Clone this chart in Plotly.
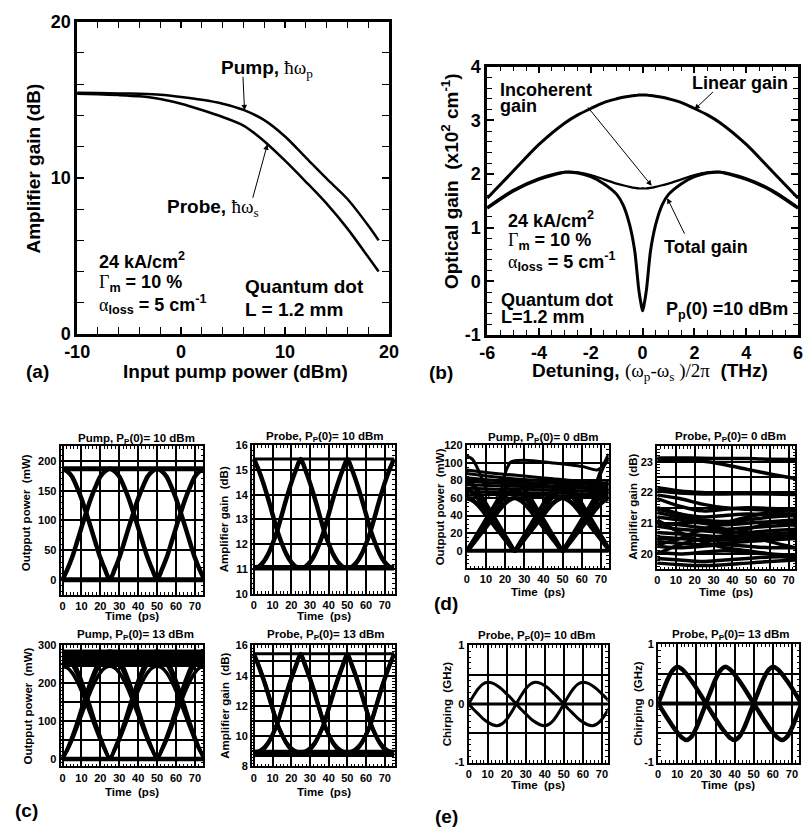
import plotly.graph_objects as go

W, H = 811, 835
SANS = "Liberation Sans, Arial, Helvetica, sans-serif"

# ---------------- panel (a): amplifier gain vs input pump power
A_INPUT_DBM = [-10, -8, -6, -4, -2, 0, 2, 4, 6, 8, 10, 12, 14, 16, 18, 19]
A_PUMP_GAIN = [15.45, 15.43, 15.41, 15.38, 15.32, 15.18, 15.0, 14.75, 14.35, 13.7, 12.65, 11.3, 9.95, 8.65, 6.95, 6.0]
A_PROBE_GAIN = [15.38, 15.35, 15.3, 15.22, 15.05, 14.75, 14.35, 13.9, 13.35, 12.35, 11.1, 9.75, 8.35, 6.75, 4.93, 4.0]

# ---------------- panel (b): optical gain vs detuning
B_DETUNING = [-6, -5, -4, -3, -2.5, -2, -1.5, -1, -0.75, -0.5, -0.3, -0.15, -0.05, 0,
              0.05, 0.15, 0.3, 0.5, 0.75, 1, 1.5, 2, 2.5, 3, 4, 5, 6]
B_LINEAR = [1.55, 2.05, 2.55, 2.95, 3.10, 3.22, 3.33, 3.40, 3.43, 3.45, 3.46, 3.47, 3.47, 3.47,
            3.47, 3.47, 3.46, 3.45, 3.43, 3.40, 3.33, 3.22, 3.10, 2.95, 2.55, 2.05, 1.55]
B_INCOHERENT = [1.38, 1.70, 1.92, 2.04, 2.03, 1.98, 1.90, 1.82, 1.79, 1.76, 1.74, 1.73, 1.73, 1.73,
                1.73, 1.73, 1.74, 1.76, 1.79, 1.82, 1.90, 1.98, 2.03, 2.04, 1.92, 1.70, 1.38]
B_TOTAL = [1.36, 1.68, 1.90, 2.03, 2.02, 1.95, 1.82, 1.62, 1.42, 1.05, 0.55, -0.15, -0.45, -0.55,
           -0.45, -0.15, 0.55, 1.05, 1.42, 1.62, 1.82, 1.95, 2.02, 2.03, 1.90, 1.68, 1.36]

# ---------------- eye diagrams (c): one bit-transition edge sampled over 25 ps
T_EDGE = [0, 2.5, 5, 7.5, 10, 12.5, 15, 17.5, 20, 22.5, 25]
T_SPAN = [0, 75]
C_PUMP10_EDGES = [[0, 17, 37, 62, 88, 113, 137, 157, 174, 183, 187]]
C_PUMP10_LEVELS = [0, 187]
C_PROBE10_EDGES = [[15.45, 15.01, 14.48, 13.87, 13.21, 12.55, 12.02, 11.58, 11.27, 11.09, 11.05]]
C_PROBE10_LEVELS = [15.45, 11.05]
C_PUMP13_EDGES = [[0, 22, 49, 81, 115, 148, 180, 207, 228, 241, 245],
                  [0, 24, 54, 89, 127, 162, 197, 227, 251, 265, 270],
                  [0, 26, 58, 94, 134, 171, 208, 240, 265, 280, 285]]
C_PUMP13_LEVELS = [0, 249, 256, 263, 270, 277, 283]
C_PROBE13_EDGES = [[15.45, 14.70, 13.85, 12.90, 11.85, 10.85, 10.10, 9.50, 9.10, 8.85, 8.75],
                   [15.40, 14.62, 13.75, 12.80, 11.78, 10.80, 10.10, 9.55, 9.20, 9.00, 8.95]]
C_PROBE13_LEVELS = [15.45, 8.78, 8.95]

# ---------------- (d) pump / probe at 0 dBm
D_PUMP_EDGES = [[0, 6, 13, 20, 27, 34, 41, 48, 54, 58, 60],
                [0, 7, 15, 23, 31, 39, 47, 55, 62, 67, 69],
                [0, 8, 17, 26, 35, 44, 53, 62, 70, 76, 78]]
D_PUMP_LEVELS = [0]
D_PUMP_T = [0, 15, 30, 45, 60, 74]
D_PUMP_WANDER = [[92, 88, 85, 82, 79, 77],
                 [88, 84, 81, 79, 77, 75],
                 [83, 80, 78, 77, 76, 73],
                 [79, 77, 75, 74, 73, 71],
                 [75, 74, 73, 72, 71, 69],
                 [71, 70, 70, 69, 68, 67],
                 [67, 67, 66, 66, 65, 64],
                 [63, 64, 63, 63, 62, 62]]
D_PUMP_SPECIAL_T = [[0, 3, 6, 9, 12],
                    [15, 18, 20, 23, 30, 45, 60, 68, 71, 74],
                    [63, 67, 70, 74],
                    [65, 69, 72, 74]]
D_PUMP_SPECIAL_V = [[108, 104, 92, 76, 62],
                    [62, 70, 88, 101, 103, 100, 96, 92, 96, 106],
                    [62, 75, 92, 110],
                    [70, 84, 98, 104]]
D_PROBE_T = [0, 12, 24, 36, 48, 60, 73.5]
D_PROBE_LINES = [[23.12, 23.12, 23.11, 23.10, 23.10, 23.08, 23.07],
                 [23.05, 23.04, 23.02, 22.90, 22.75, 22.60, 22.45],
                 [22.15, 22.05, 22.00, 21.98, 21.97, 21.95, 21.93],
                 [22.05, 21.98, 21.95, 21.95, 21.96, 21.97, 21.98],
                 [21.92, 21.80, 21.62, 21.50, 21.45, 21.42, 21.40],
                 [21.80, 21.55, 21.40, 21.45, 21.50, 21.48, 21.45],
                 [21.45, 21.30, 21.20, 21.25, 21.30, 21.28, 21.30],
                 [21.35, 21.20, 21.10, 21.05, 21.10, 21.20, 21.25],
                 [21.20, 21.10, 21.00, 20.95, 21.00, 21.05, 21.10],
                 [21.00, 20.95, 20.85, 20.80, 20.85, 20.90, 20.95],
                 [20.90, 20.80, 20.75, 20.70, 20.70, 20.75, 20.80],
                 [20.70, 20.65, 20.60, 20.55, 20.60, 20.65, 20.70],
                 [20.55, 20.50, 20.45, 20.45, 20.50, 20.55, 20.60],
                 [20.40, 20.35, 20.30, 20.35, 20.40, 20.45, 20.50],
                 [20.25, 20.20, 20.25, 20.30, 20.25, 20.20, 20.20],
                 [20.05, 20.00, 20.05, 20.10, 20.05, 20.00, 19.95],
                 [19.85, 19.80, 19.75, 19.80, 19.85, 19.90, 19.90],
                 [19.70, 19.65, 19.62, 19.65, 19.70, 19.75, 19.80],
                 [21.50, 21.30, 21.05, 20.80, 20.60, 20.40, 20.20],
                 [20.30, 20.50, 20.80, 21.00, 21.20, 21.35, 21.40],
                 [21.10, 20.70, 20.40, 20.20, 20.10, 20.00, 19.85],
                 [20.00, 20.30, 20.50, 20.60, 20.80, 21.00, 21.10]]

# ---------------- (e) chirp: positive lobe of one transition
E10_LOBE = [0, 0.14, 0.26, 0.34, 0.37, 0.355, 0.31, 0.25, 0.17, 0.09, 0]
E13_LOBE = [0, 0.21, 0.41, 0.56, 0.62, 0.58, 0.49, 0.38, 0.26, 0.13, 0]
E_ZERO = [0]

# ======================================================================
fig = go.Figure()
layout = dict(width=W, height=H, margin=dict(l=0, r=0, t=0, b=0),
              paper_bgcolor="white", plot_bgcolor="white", showlegend=False,
              font=dict(family=SANS, color="black", weight="bold"))
ann = []


def xn(i):
    return "x" if i == 1 else f"x{i}"


def yn(i):
    return "y" if i == 1 else f"y{i}"


def frange(a, b, s):
    out, v = [], a
    while v <= b + 1e-9:
        out.append(round(v, 6))
        v += s
    return out


def fmt(v):
    return f"{v:g}"


def add_axes(i, xpx, ypx, xr, yr, xt, xl, yt, yl, xminor, yminor, grid, tsize,
             tlen, mlen, lw):
    common = dict(showline=True, linecolor="black", linewidth=lw, mirror="ticks",
                  ticks="inside", ticklen=tlen, tickwidth=1.5, tickcolor="black",
                  tickmode="array", showgrid=grid, gridcolor="black", gridwidth=1.6,
                  zeroline=False, fixedrange=True,
                  tickfont=dict(family=SANS, size=tsize, color="black", weight="bold"))
    xa = dict(common, domain=[xpx[0] / W, xpx[1] / W], range=xr, anchor=yn(i),
              tickvals=xt, ticktext=xl,
              minor=dict(tickmode="array", tickvals=xminor, ticks="inside", ticklen=mlen,
                         tickwidth=1, tickcolor="black", showgrid=False))
    ya = dict(common, domain=[1 - ypx[1] / H, 1 - ypx[0] / H], range=yr, anchor=xn(i),
              tickvals=yt, ticktext=yl,
              minor=dict(tickmode="array", tickvals=yminor, ticks="inside", ticklen=mlen,
                         tickwidth=1, tickcolor="black", showgrid=False))
    layout["xaxis" if i == 1 else f"xaxis{i}"] = xa
    layout["yaxis" if i == 1 else f"yaxis{i}"] = ya


def line(i, x, y, w, shape="spline", smooth=0.8):
    ln = dict(color="black", width=w, shape=shape)
    if shape == "spline":
        ln["smoothing"] = smooth
    fig.add_trace(go.Scatter(x=x, y=y, mode="lines", line=ln, xaxis=xn(i), yaxis=yn(i),
                             hoverinfo="skip"))


def eye(i, edge, w, neg=False):
    rev = edge[::-1]
    if neg:
        rev = [-v for v in rev]
    t = T_EDGE + [v + 25 for v in T_EDGE[1:]] + [v + 50 for v in T_EDGE[1:]]
    line(i, t, edge + rev[1:] + edge[1:], w)
    line(i, t, rev + edge[1:] + rev[1:], w)


def text(x, y, s, size, anchor="center", angle=0):
    ann.append(dict(x=x / W, y=1 - y / H, xref="paper", yref="paper", text=s,
                    showarrow=False, xanchor=anchor, yanchor="middle", textangle=angle,
                    font=dict(family=SANS, size=size, color="black", weight="bold")))


def arrow(i, x, y, dx, dy):
    ann.append(dict(x=x, y=y, xref=xn(i), yref=yn(i), ax=dx, ay=dy, text="",
                    showarrow=True, arrowhead=2, arrowsize=1.1, arrowwidth=1,
                    arrowcolor="black"))


def ser(s):
    return "<span style=\"font-family:'Liberation Serif';font-weight:normal\">" + s + "</span>"


# ---------------- (a)
add_axes(1, (66, 387), (12, 332), [-10, 20], [0, 20],
         [-10, 0, 10, 20], ["-10", "0", "10", "20"], [0, 10, 20], ["0", "10", "20"],
         frange(-10, 20, 2), frange(0, 20, 2), False, 18, 7, 7, 2.5)
line(1, A_INPUT_DBM, A_PUMP_GAIN, 2.5)
line(1, A_INPUT_DBM, A_PROBE_GAIN, 2.5)
text(261, 60, "Pump, " + ser("ħω<sub>p</sub>"), 19)
text(206, 203, "Probe, " + ser("ħω<sub>s</sub>"), 19)
arrow(1, 6.1, 14.33, -1.6, -35)
arrow(1, 8.3, 12.15, -15, 55)
text(86, 257, "24 kA/cm<sup>2</sup>", 18, "left")
text(86, 280, ser("Γ") + "<sub>m</sub> = 10 %", 18, "left")
text(86, 302, ser("α") + "<sub>loss</sub> = 5 cm<sup>-1</sup>", 18, "left")
text(237, 283, "Quantum dot", 19, "left")
text(237, 307, "L = 1.2 mm", 19, "left")
text(229, 370, "Input pump power (dBm)", 19)
text(21, 162, "Amplifier gain (dB)", 19, angle=-90)
text(25, 370, "(a)", 19)

# ---------------- (b)
add_axes(2, (488, 808), (58, 333), [-6, 6], [-1, 4],
         [-6, -4, -2, 0, 2, 4, 6], ["-6", "-4", "-2", "0", "2", "4", "6"],
         [-1, 0, 1, 2, 3, 4], ["-1", "0", "1", "2", "3", "4"],
         frange(-6, 6, 0.5), frange(-1, 4, 0.2), False, 18, 7, 5, 2.5)
line(2, B_DETUNING, B_LINEAR, 3)
line(2, B_DETUNING, B_INCOHERENT, 2.2)
line(2, B_DETUNING, B_TOTAL, 3, smooth=0.6)
text(499, 82, "Incoherent", 18, "left")
text(499, 98, "gain", 18, "left")
text(800, 75, "Linear gain", 18, "right")
text(668, 243, "Total gain", 18, "left")
arrow(2, 2.0, 3.2, 20, -19)
arrow(2, 0.35, 1.78, -65, -80)
arrow(2, 0.95, 1.55, 18, 37)
text(507, 215, "24 kA/cm<sup>2</sup>", 18, "left")
text(507, 237, ser("Γ") + "<sub>m</sub> = 10 %", 18, "left")
text(507, 258, ser("α") + "<sub>loss</sub> = 5 cm<sup>-1</sup>", 18, "left")
text(500, 297, "Quantum dot", 18, "left")
text(500, 315, "L=1.2 mm", 18, "left")
text(800, 308, "P<sub>p</sub>(0) =10 dBm", 18, "right")
text(656, 371, "Detuning, " + ser("(ω<sub>p</sub>-ω<sub>s</sub> )/2π") + "  (THz)", 19)
text(450, 175, "Optical gain  (x10<sup>2</sup> cm<sup>-1</sup>)", 19, angle=-90)
text(441, 371, "(b)", 19)

# ---------------- small panels
XT = frange(0, 70, 10)
XL = [fmt(v) for v in XT]
XM = frange(0, 74, 2)
SMALL = 11


def small(i, xpx, ypx, xr, yr, yt, yl, ym):
    add_axes(i, xpx, ypx, xr, yr, XT, XL, yt, yl, XM, ym, True, SMALL, 3, 2.5, 2)


def levels(i, vals, w):
    for v in vals:
        line(i, T_SPAN, [v, v], w, shape="linear")


# (c) pump 10 dBm
small(3, (49, 196), (447, 599), [-1, 74.5], [-25, 225],
      frange(0, 200, 50), ["0", "50", "100", "150", "200"], frange(-20, 220, 10))
levels(3, C_PUMP10_LEVELS, 5)
for e in C_PUMP10_EDGES:
    eye(3, e, 4.5)
# (c) probe 10 dBm
small(4, (246, 393), (446, 598), [-1, 75.4], [10, 16],
      frange(10, 16, 1), [fmt(v) for v in frange(10, 16, 1)], frange(10, 16, 0.2))
levels(4, C_PROBE10_LEVELS[:1], 3)
levels(4, C_PROBE10_LEVELS[1:], 5.5)
for e in C_PROBE10_EDGES:
    eye(4, e, 4.5)
# (c) pump 13 dBm
small(5, (49, 196), (651, 775), [-1, 74.5], [-20, 300],
      frange(0, 300, 50), ["0", "", "100", "", "200", "", "300"], frange(-20, 300, 10))
levels(5, C_PUMP13_LEVELS, 4.5)
for e in C_PUMP13_EDGES:
    eye(5, e, 3.5)
# (c) probe 13 dBm
small(6, (246, 393), (651, 775), [-1, 75.4], [8, 16],
      frange(8, 16, 1), ["8", "", "10", "", "12", "", "14", "", "16"], frange(8, 16, 0.2))
levels(6, C_PROBE13_LEVELS[:1], 3)
levels(6, C_PROBE13_LEVELS[1:], 4.5)
for e in C_PROBE13_EDGES:
    eye(6, e, 4)

# (d) pump 0 dBm
small(7, (467, 613), (446, 572), [0, 74], [-20, 120],
      frange(0, 120, 20), [fmt(v) for v in frange(0, 120, 20)], frange(-20, 120, 5))
levels(7, D_PUMP_LEVELS, 4)
for e in D_PUMP_EDGES:
    eye(7, e, 4.5)
for v in D_PUMP_WANDER:
    line(7, D_PUMP_T, v, 3)
for t, v in zip(D_PUMP_SPECIAL_T, D_PUMP_SPECIAL_V):
    line(7, t, v, 3)
# (d) probe 0 dBm
small(8, (663, 805), (447, 573), [0, 73.5], [19.5, 23.5],
      frange(20, 23.5, 0.5), ["20", "", "21", "", "22", "", "23", ""], frange(19.5, 23.5, 0.1))
for v in D_PROBE_LINES:
    line(8, D_PROBE_T, v, 3.5)

# (e) chirp
small(9, (469, 612), (651, 771), [0, 73], [-1, 1],
      [-1, -0.5, 0, 0.5, 1], ["-1", "", "0", "", "1"], frange(-1, 1, 0.1))
levels(9, E_ZERO, 3)
eye(9, E10_LOBE, 3, neg=True)
small(10, (664, 809), (650, 771), [0, 73.7], [-1, 1],
      [-1, -0.5, 0, 0.5, 1], ["-1", "", "0", "", "1"], frange(-1, 1, 0.1))
levels(10, E_ZERO, 4)
eye(10, E13_LOBE, 4.5, neg=True)

# small-panel titles and labels
TS = 11.5
PP = "P<sub>P</sub>(0)="
text(127, 440, "Pump, " + PP + " 10 dBm", TS)
text(321, 437, "Probe, " + PP + " 10 dBm", TS)
text(126, 640, "Pump, " + PP + " 13 dBm", TS)
text(322, 640, "Probe, " + PP + " 13 dBm", TS)
text(546, 438, "Pump, " + PP + " 0 dBm", TS)
text(738, 437, "Probe, " + PP + " 0 dBm", TS)
text(539, 641, "Probe, " + PP + " 10 dBm", TS)
text(739, 640, "Probe, " + PP + " 13 dBm", TS)

AS = 11.5
text(13, 515, "Outpput power  (mW)", AS, angle=-90)
text(218, 522, "Amplifier gain  (dB)", AS, angle=-90)
text(15, 713, "Outpput power  (mW)", AS, angle=-90)
text(218, 713, "Amplifier gain  (dB)", AS, angle=-90)
text(439, 509, "Outpput power  (mW)", AS, angle=-90)
text(638, 509, "Amplifier gain  (dB)", AS, angle=-90)
text(447, 711, "Chirping  (GHz)", AS, angle=-90)
text(643, 711, "Chirping  (GHz)", AS, angle=-90)

text(122, 621, "Time  (ps)", AS)
text(320, 621, "Time  (ps)", AS)
text(122, 801, "Time  (ps)", AS)
text(320, 801, "Time  (ps)", AS)
text(540, 596, "Time  (ps)", AS)
text(734, 596, "Time  (ps)", AS)
text(540, 794, "Time  (ps)", AS)
text(736, 794, "Time  (ps)", AS)

text(14, 820, "(c)", 19)
text(446, 608, "(d)", 19)
text(446, 826, "(e)", 19)

layout["annotations"] = ann
fig.update_layout(**layout)
fig.write_html("out.html")
